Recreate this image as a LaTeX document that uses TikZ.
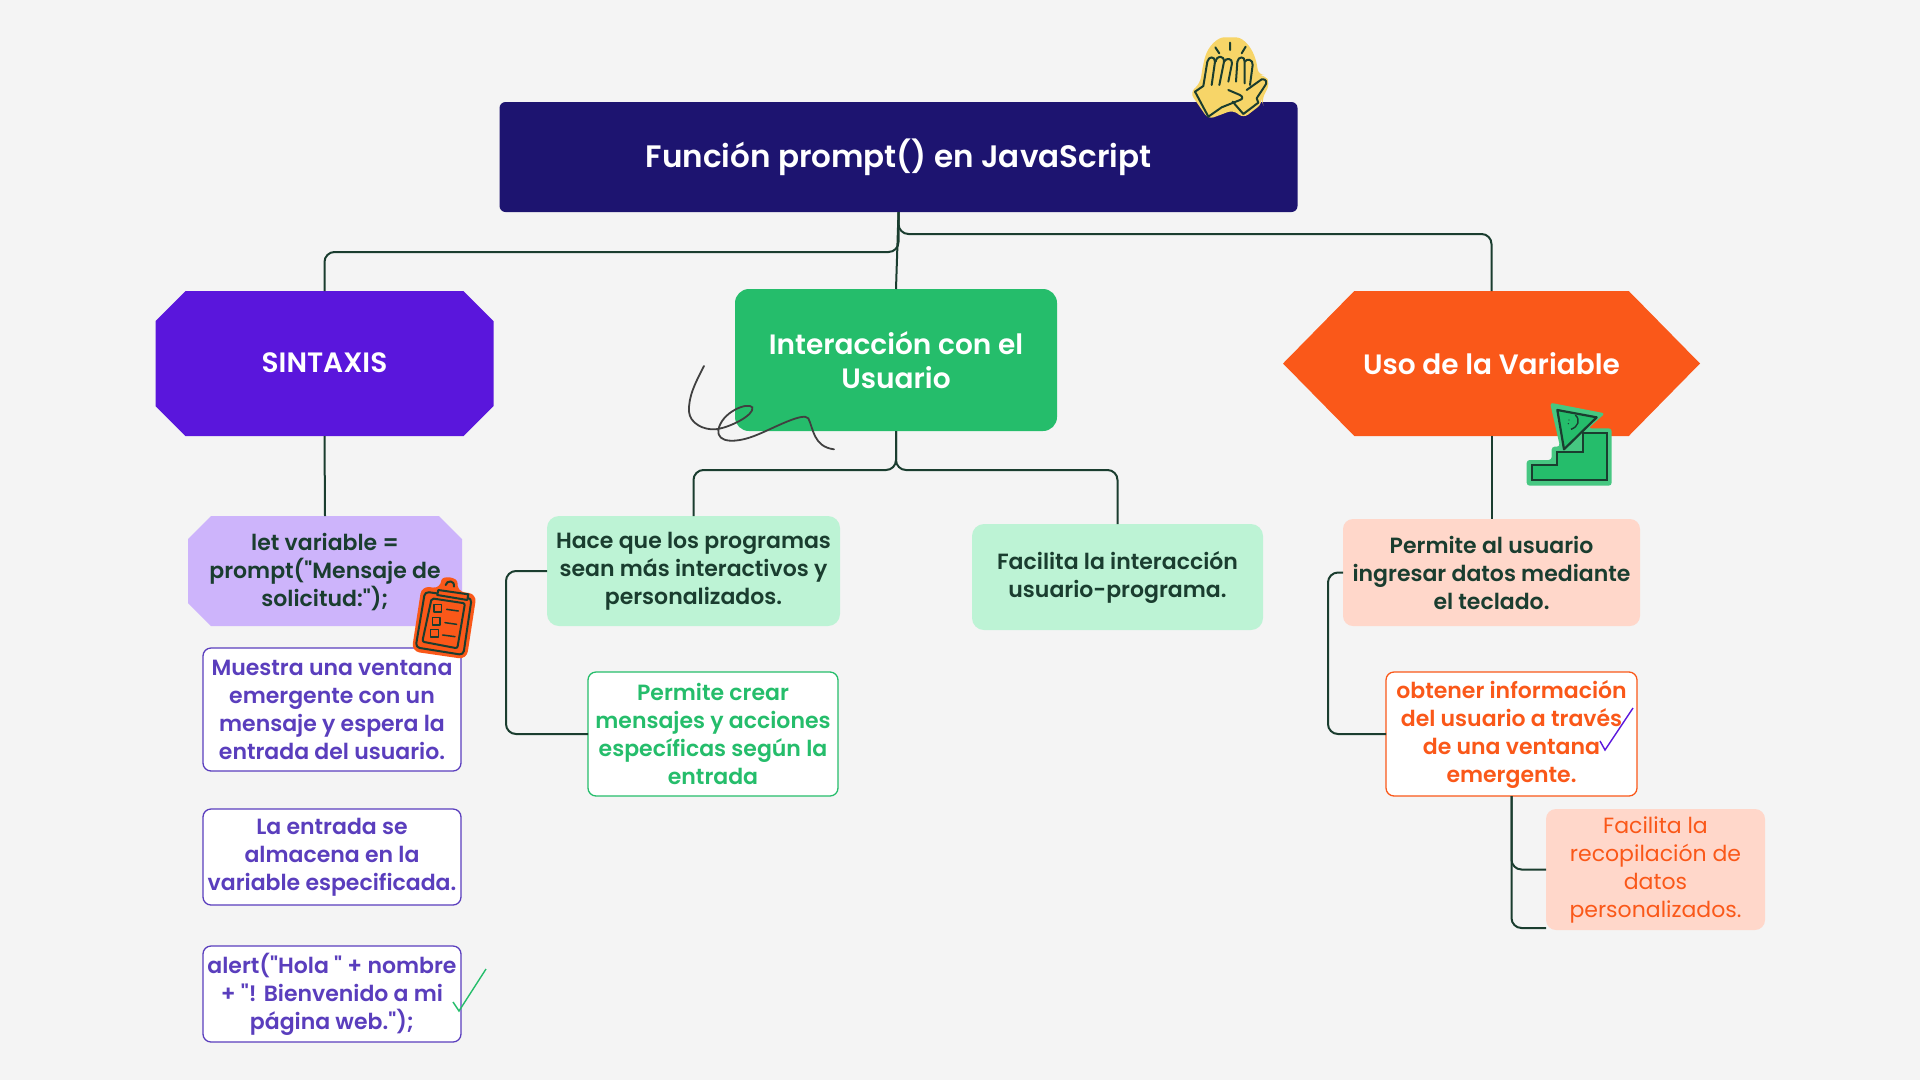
\documentclass[tikz,border=0pt]{standalone}
\usepackage{fontspec}
\setmainfont{Poppins}[BoldFont=Poppins SemiBold,Ligatures=TeXOff]
\definecolor{fondo}{HTML}{F4F4F4}
\definecolor{marino}{HTML}{1D1470}
\definecolor{violeta}{HTML}{5A16DC}
\definecolor{lila}{HTML}{CDB4FB}
\definecolor{tinta}{HTML}{5A3EBD}
\definecolor{verde}{HTML}{25BD6B}
\definecolor{menta}{HTML}{BDF3D5}
\definecolor{naranja}{HTML}{FA5819}
\definecolor{rosa}{HTML}{FFD7CA}
\definecolor{oscuro}{HTML}{1A3D2F}
\definecolor{amarillo}{HTML}{F7D568}
\usetikzlibrary{shapes.symbols}
\tikzset{
  caja/.style={inner sep=0pt,outer sep=0pt,align=center,text=oscuro,font=\fontsize{22}{28}\selectfont\bfseries},
  grande/.style={caja,text=white,font=\fontsize{28}{34}\selectfont\bfseries},
  blanca/.style={caja,fill=white,draw=#1,line width=1.3pt,rounded corners=8pt,text=#1},
  enlace/.style={draw=oscuro,line width=2pt,rounded corners=10pt},
  trazo/.style={draw=oscuro,line width=2pt,line join=round,line cap=round}
}
\newcommand{\chaflan}[3]{\fill[#2] ([xshift=#3]#1.north west) -- ([xshift=-#3]#1.north east) -- ([yshift=-#3]#1.north east) -- ([yshift=#3]#1.south east) -- ([xshift=-#3]#1.south east) -- ([xshift=#3]#1.south west) -- ([yshift=#3]#1.south west) -- ([yshift=-#3]#1.north west) -- cycle;}
\begin{document}
\begin{tikzpicture}[x=1pt,y=-1pt]
  \useasboundingbox (0,0) rectangle (1920,1080);
  \fill[fondo] (0,0) rectangle (1920,1080);
  \node[grande,font=\fontsize{31}{38}\selectfont\bfseries,fill=marino,rounded corners=6pt,minimum width=798pt,minimum height=110pt] (titulo) at (898.5,157) {Función prompt() en JavaScript};
  \node[caja,minimum width=338pt,minimum height=145pt] (sintaxis) at (324.5,363.5) {};
  \chaflan{sintaxis}{violeta}{30pt}
  \node[grande] (sintaxistexto) at (324.5,362.5) {SINTAXIS};
  \node[grande,fill=verde,rounded corners=14pt,minimum width=322pt,minimum height=142pt] (interaccion) at (896,360) {Interacción con el\\Usuario};
  \node[grande,signal,signal to=west and east,signal pointer angle=91,fill=naranja,minimum width=417pt,minimum height=145pt] (uso) at (1491.5,363.5) {Uso de la Variable};
  \node[caja,minimum width=274pt,minimum height=110pt] (let) at (325,571) {};
  \chaflan{let}{lila}{23pt}
  \node[caja] (lettexto) at (325,572.5) {let variable =\\prompt("Mensaje de\\solicitud:");};
  \node[blanca=tinta,minimum width=258pt,minimum height=123pt] (muestra) at (332,709.5) {Muestra una ventana\\emergente con un\\mensaje y espera la\\entrada del usuario.};
  \node[blanca=tinta,minimum width=258pt,minimum height=96pt] (entrada) at (332,857) {La entrada se\\almacena en la\\variable especificada.};
  \node[blanca=tinta,minimum width=258pt,minimum height=96pt] (alerta) at (332,994) {alert("Hola " + nombre\\+ "! Bienvenido a mi\\página web.");};
  \node[caja,fill=menta,rounded corners=12pt,minimum width=293pt,minimum height=110pt] (hace) at (693.5,571) {Hace que los programas\\sean más interactivos y\\personalizados.};
  \node[blanca=verde,minimum width=250pt,minimum height=124pt] (crear) at (713,734) {Permite crear\\mensajes y acciones\\específicas según la\\entrada};
  \node[caja,fill=menta,rounded corners=12pt,minimum width=291pt,minimum height=106pt] (facilita) at (1117.5,577) {Facilita la interacción\\usuario-programa.};
  \node[caja,fill=rosa,rounded corners=10pt,minimum width=297pt,minimum height=107pt] (permite) at (1491.5,572.5) {Permite al usuario\\ingresar datos mediante\\el teclado.};
  \node[blanca=naranja,minimum width=251pt,minimum height=124pt] (obtener) at (1511.5,734) {obtener información\\del usuario a través\\de una ventana\\emergente.};
  \node[caja,fill=rosa,rounded corners=10pt,text=naranja,font=\fontsize{22}{28}\selectfont,minimum width=219pt,minimum height=121pt] (recopila) at (1655.5,869.5) {Facilita la\\recopilación de\\datos\\personalizados.};
  \draw[enlace] (titulo.south) -- ++(0,40) -| (sintaxis.north);
  \draw[enlace] (titulo.south) -- (interaccion.north);
  \draw[enlace] (titulo.south) -- ++(0,22) -| (uso.north);
  \draw[enlace] (sintaxis.south) -- (let.north);
  \draw[enlace] (interaccion.south) -- ++(0,39) -| (hace.north);
  \draw[enlace] (interaccion.south) -- ++(0,39) -| (facilita.north);
  \draw[enlace] (uso.south) -- (permite.north);
  \draw[enlace] (hace.west) -- ++(-41,0) |- (crear.west);
  \draw[enlace] (permite.west) -- ++(-15,0) |- (obtener.west);
  \draw[enlace] (obtener.south) |- (recopila.west);
  \draw[enlace] (obtener.south) |- ([yshift=2pt]recopila.south west);
  \begin{scope}[shift={(1150,20)},scale=0.3333]
    \fill[amarillo,rounded corners=6pt] (120,218) -- (150,190) -- (160,130) .. controls (175,75) and (205,52) .. (240,52) .. controls (280,52) and (315,85) .. (325,165) -- (345,165) -- (360,190) -- (335,240) -- (338,250) -- (280,295) -- (250,270) -- (175,298) -- cycle;
    \draw[trazo] (135,215) -- (160,198) -- (172,125) .. controls (176,108) and (195,108) .. (195,125) -- (185,195);
    \draw[trazo] (197,125) .. controls (200,105) and (222,105) .. (222,125) -- (208,195);
    \draw[trazo] (222,125) .. controls (228,112) and (248,115) .. (246,130) -- (235,185);
    \draw[trazo] (235,210) -- (270,225) .. controls (280,230) and (278,238) .. (270,240) -- (215,262) -- (175,290) -- (135,215);
    \draw[trazo] (258,185) -- (262,125) .. controls (265,108) and (285,108) .. (284,125) -- (284,190);
    \draw[trazo] (284,125) .. controls (290,115) and (310,118) .. (308,135) -- (300,195);
    \draw[trazo] (290,210) -- (335,178) .. controls (350,175) and (352,190) .. (345,197) -- (320,235) -- (325,248) -- (280,282) -- (248,245);
    \draw[trazo] (196,82) -- (208,100) (240,68) -- (240,90) (287,80) -- (275,100);
  \end{scope}
  \begin{scope}[shift={(660,340)},scale=0.3333]
    \draw[draw=black!75,line width=1.8pt,line cap=round] (132,78) .. controls (105,130) and (85,170) .. (87,215) .. controls (90,250) and (130,270) .. (165,268) .. controls (205,265) and (285,225) .. (277,202) .. controls (265,185) and (185,215) .. (175,270) .. controls (170,310) and (230,310) .. (290,285) .. controls (340,265) and (430,215) .. (445,235) .. controls (460,265) and (460,320) .. (522,328);
  \end{scope}
  \begin{scope}[shift={(1500,380)},scale=0.3333]
    \fill[verde!85!white,rounded corners=3pt] (80,240) -- (155,240) -- (155,200) -- (180,200) -- (150,68) -- (315,100) -- (265,145) -- (335,145) -- (335,317) -- (80,317) -- cycle;
    \draw[oscuro,line width=2.2pt,fill=verde] (97,255) -- (170,255) -- (170,215) -- (248,215) -- (248,160) -- (320,160) -- (320,300) -- (97,300) -- cycle;
    \draw[oscuro,line width=2.2pt,fill=verde,line join=round] (172,90) -- (290,112) -- (192,208) -- cycle;
    \fill[oscuro] (207,120) circle (2.2pt) (205,131) circle (2.2pt);
    \draw[oscuro,line width=1.4pt] (226,105) .. controls (242,120) and (235,140) .. (213,148);
  \end{scope}
  \begin{scope}[shift={(180,510)},scale=0.3333]
    \fill[naranja,rounded corners=8pt] (725,228) -- (782,236) .. controls (785,195) and (835,200) .. (830,244) -- (890,252) -- (860,448) -- (695,424) -- cycle;
    \draw[trazo,rounded corners=4pt] (735,245) -- (875,265) -- (850,435) -- (707,412) -- cycle;
    \draw[trazo,rounded corners=2pt] (755,265) -- (855,280) -- (832,415) -- (727,395) -- cycle;
    \draw[trazo,fill=naranja] (775,240) -- (865,253) -- (862,270) -- (772,255) -- cycle;
    \draw[trazo] (797,225) .. controls (800,210) and (825,210) .. (822,230);
    \draw[trazo,line width=1.5pt] (762,283) rectangle (785,306) (757,322) rectangle (780,345) (752,358) rectangle (775,381);
    \draw[trazo,line width=1.5pt] (800,298) -- (835,303) (795,338) -- (830,343) (788,375) -- (825,380);
  \end{scope}
  \draw[violeta,line width=1.4pt] (1600,741) -- (1605,750) -- (1633,708);
  \draw[verde,line width=1.4pt] (453,1002) -- (459,1011) -- (486,969);
\end{tikzpicture}
\end{document}
